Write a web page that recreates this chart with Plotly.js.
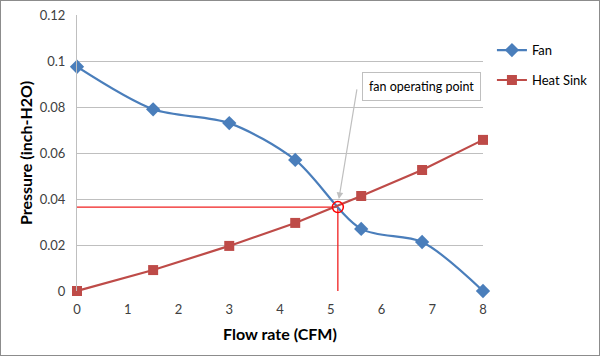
<!DOCTYPE html>
<html><head><meta charset="utf-8">
<script src="https://cdn.plot.ly/plotly-3.0.1.min.js"></script>
<style>body{margin:0;background:#fff}#wrap{position:relative;width:603px;height:359px}
#frame{position:absolute;left:0px;top:0px;width:598px;height:354px;border:1.5px solid #8c8c8c;pointer-events:none}</style>
</head><body>
<div id="wrap"><div id="chart" style="width:603px;height:359px"></div><div id="frame"></div></div>
<script>
const flowFan = [0, 1.5, 3, 4.3, 5.6, 6.8, 8];
const pressureFan = [0.0975, 0.079, 0.073, 0.057, 0.027, 0.0213, 0];
const flowSink = [0, 1.5, 3, 4.3, 5.6, 6.8, 8];
const pressureSink = [0, 0.0091, 0.0196, 0.0296, 0.0413, 0.0526, 0.0657];
const opFlow = 5.14;
const opPressure = 0.0365;
const labelPos = [6.79, 0.0891];
const arrowTail = [5.52, 0.0883];
const xTicks = [0, 1, 2, 3, 4, 5, 6, 7, 8];
const yTicks = [0, 0.02, 0.04, 0.06, 0.08, 0.1, 0.12];
const yTickText = ['0', '0.02', '0.04', '0.06', '0.08', '0.1', '0.12'];

const font = 'Lato, "Open Sans", sans-serif';
const traces = [
  {x: [0, opFlow], y: [opPressure, opPressure], mode: 'lines', line: {color: '#f02020', width: 1.3}, showlegend: false, hoverinfo: 'skip'},
  {x: [opFlow, opFlow], y: [0, opPressure], mode: 'lines', line: {color: '#f02020', width: 1.3}, showlegend: false, hoverinfo: 'skip'},
  {x: flowFan, y: pressureFan, name: 'Fan', legendgroup: 'a', mode: 'lines+markers', cliponaxis: false,
   line: {color: '#4a7ebb', width: 2.2, shape: 'spline', smoothing: 0.85},
   marker: {symbol: 'diamond', size: 11, color: '#4a7ebb'}},
  {x: flowSink, y: pressureSink, name: 'Heat Sink', legendgroup: 'b', mode: 'lines+markers', cliponaxis: false,
   line: {color: '#be4b48', width: 2.2},
   marker: {symbol: 'square', size: 10, color: '#be4b48'}},
  {x: [opFlow], y: [opPressure], mode: 'markers', marker: {symbol: 'circle-open', size: 11, color: '#ff0000', line: {width: 1.5}}, showlegend: false, hoverinfo: 'skip'}
];
const layout = {
  width: 603, height: 359,
  margin: {l: 77, r: 120, t: 15, b: 68, autoexpand: false},
  paper_bgcolor: '#fff', plot_bgcolor: '#fff',
  font: {family: font, size: 13, color: '#404040'},
  xaxis: {range: [0, 8], tickvals: xTicks, showgrid: false, zeroline: false, showline: false,
    ticks: '', tickfont: {size: 13, color: '#404040'}, ticklabelstandoff: 9,
    title: {text: '<b>Flow rate (CFM)</b>', font: {size: 16, color: '#000'}, standoff: 12}},
  yaxis: {range: [0, 0.12], tickvals: yTicks, ticktext: yTickText, showgrid: true, gridcolor: '#bfbfbf', gridwidth: 1,
    zeroline: false, showline: true, linecolor: '#bfbfbf', linewidth: 1, ticks: '', ticklen: 0, ticklabelstandoff: 8,
    tickfont: {size: 13, color: '#404040'},
    title: {text: '<b>Pressure (inch-H2O)</b>', font: {size: 16, color: '#000'}, standoff: 3}},
  legend: {x: 1.022, y: 0.927, xanchor: 'left', yanchor: 'top', font: {size: 13, color: '#000'}, tracegroupgap: 10, itemwidth: 30,
    bgcolor: 'rgba(0,0,0,0)'},
  annotations: [
    {x: labelPos[0], y: labelPos[1], xref: 'x', yref: 'y', text: 'fan operating point', showarrow: false,
     bordercolor: '#bfbfbf', borderwidth: 1, borderpad: 6, bgcolor: '#fff', font: {size: 12.5, color: '#000'}},
    {x: opFlow + 0.02, y: opPressure + 0.0035, xref: 'x', yref: 'y', ax: arrowTail[0], ay: arrowTail[1], axref: 'x', ayref: 'y',
     text: '', showarrow: true, arrowhead: 2, arrowsize: 1.1, arrowwidth: 1.2, arrowcolor: '#bfbfbf'}
  ]
};
Plotly.newPlot('chart', traces, layout, {displayModeBar: false, staticPlot: true});
</script>
</body></html>
